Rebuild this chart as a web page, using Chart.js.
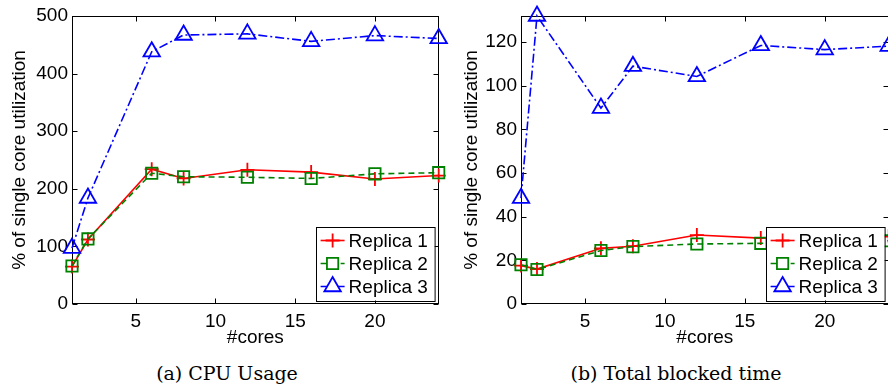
<!DOCTYPE html>
<html>
<head>
    <title>Replica CPU usage and blocked time</title>
    <script src="https://cdn.jsdelivr.net/npm/chart.js"></script>
    <style>
        body {
            margin: 0;
            background: #fff;
        }
        .page {
            position: relative;
            width: 888px;
            height: 389px;
            overflow: hidden;
        }
        canvas {
            position: absolute;
            top: 0;
        }
        #cpuChart { left: 0; }
        #blockedChart { left: 449px; }
        .caption {
            position: absolute;
            top: 362px;
            line-height: 22px;
            font-family: 'DejaVu Serif', serif;
            font-size: 19px;
            color: #000;
            white-space: nowrap;
            transform: translateX(-50%);
        }
    </style>
</head>
<body>
    <div class="page">
        <canvas id="cpuChart" width="450" height="350"></canvas>
        <canvas id="blockedChart" width="451" height="350"></canvas>
        <div class="caption" style="left:227px">(a) CPU Usage</div>
        <div class="caption" style="left:676px">(b) Total blocked time</div>
    </div>

    <script>
        // measured core counts
        const cores = [1, 2, 6, 8, 12, 16, 20, 24];
        const coreTicks = [5, 10, 15, 20];
        const seriesNames = ['Replica 1', 'Replica 2', 'Replica 3'];

        // CPU usage (% of one core)
        const cpuReplica1 = [65, 112, 234, 218, 233, 229, 217, 223];
        const cpuReplica2 = [66, 113, 227, 221, 220, 218, 226, 228];
        const cpuReplica3 = [97, 184, 438, 467, 469, 456, 466, 461];
        const cpuTicks = [0, 100, 200, 300, 400, 500];

        // total blocked time (% of one core)
        const blockedReplica1 = [17.6, 16, 25.5, 26.5, 31.6, 30.2, 30, 31];
        const blockedReplica2 = [18, 15.8, 24.5, 26.3, 27.5, 27.8, 28.5, 29];
        const blockedReplica3 = [48.5, 132, 89.8, 109, 104.3, 118.5, 116.6, 118.2];
        const blockedTicks = [0, 20, 40, 60, 80, 100, 120];

        const lineStyles = [
            { color: '#ff0000', dash: [], marker: 'cross', radius: 7, order: 3 },
            { color: '#008000', dash: [6, 4], marker: 'rect', radius: 8, order: 2 },
            { color: '#0000ff', dash: [9, 3, 2, 3], marker: 'triangle', radius: 9.5, order: 1 }
        ];

        Chart.defaults.font.family = "'Liberation Sans', Arial, sans-serif";
        Chart.defaults.font.size = 19;
        Chart.defaults.color = '#000';

        function buildDatasets(seriesList) {
            return seriesList.map((values, i) => {
                const st = lineStyles[i];
                return {
                    label: seriesNames[i],
                    data: cores.map((c, k) => ({ x: c, y: values[k] })),
                    borderColor: st.color,
                    backgroundColor: 'rgba(0,0,0,0)',
                    borderWidth: 1.6,
                    borderDash: st.dash,
                    pointStyle: st.marker,
                    pointRadius: st.radius,
                    pointBorderColor: st.color,
                    pointBackgroundColor: 'rgba(0,0,0,0)',
                    pointBorderWidth: 1.8,
                    tension: 0,
                    clip: false,
                    order: st.order
                };
            });
        }

        // box around the plot with inward tick marks on all four sides
        const axesFrame = {
            id: 'axesFrame',
            beforeDatasetsDraw(chart) {
                const { ctx, chartArea: a, scales } = chart;
                const L = Math.round(a.left) + 0.5, R = Math.round(a.right) - 0.5;
                const T = Math.round(a.top) + 0.5, B = Math.round(a.bottom) - 0.5;
                const len = 5;
                ctx.save();
                ctx.strokeStyle = '#000';
                ctx.lineWidth = 1;
                ctx.strokeRect(L, T, R - L, B - T);
                ctx.beginPath();
                scales.x.ticks.forEach(t => {
                    const px = Math.round(scales.x.getPixelForValue(t.value)) + 0.5;
                    ctx.moveTo(px, B); ctx.lineTo(px, B - len);
                    ctx.moveTo(px, T); ctx.lineTo(px, T + len);
                });
                scales.y.ticks.forEach(t => {
                    const py = Math.round(scales.y.getPixelForValue(t.value)) + 0.5;
                    ctx.moveTo(L, py); ctx.lineTo(L + len, py);
                    ctx.moveTo(R, py); ctx.lineTo(R - len, py);
                });
                ctx.stroke();
                ctx.restore();
            }
        };

        // legend box in the lower right corner of the plot
        const cornerLegend = {
            id: 'cornerLegend',
            afterDraw(chart) {
                const { ctx, chartArea: a } = chart;
                const w = 118.6, h = 74;
                const x0 = a.right - 4 - w, y0 = a.bottom - 3.5 - h;
                ctx.save();
                ctx.fillStyle = '#fff';
                ctx.fillRect(x0, y0, w, h);
                ctx.strokeStyle = '#000';
                ctx.lineWidth = 1;
                ctx.strokeRect(Math.round(x0) + 0.5, Math.round(y0) + 0.5, w, h);

                chart.data.datasets.forEach((ds, i) => {
                    const cy = y0 + 14 + i * 23;
                    ctx.strokeStyle = ds.borderColor;
                    ctx.lineWidth = ds.borderWidth;
                    ctx.setLineDash(ds.borderDash);
                    ctx.beginPath();
                    ctx.moveTo(x0 + 4.5, cy);
                    ctx.lineTo(x0 + 28.5, cy);
                    ctx.stroke();
                    ctx.setLineDash([]);

                    ctx.fillStyle = '#fff';
                    ctx.lineWidth = ds.pointBorderWidth;
                    Chart.helpers.drawPoint(ctx, {
                        pointStyle: ds.pointStyle,
                        radius: ds.pointRadius,
                        borderWidth: ds.pointBorderWidth,
                        rotation: 0
                    }, x0 + 16.5, cy);

                    ctx.fillStyle = '#000';
                    ctx.font = "19px 'Liberation Sans', Arial, sans-serif";
                    ctx.textAlign = 'left';
                    ctx.textBaseline = 'middle';
                    ctx.fillText(ds.label, x0 + 32.5, cy + 1);
                });
                ctx.restore();
            }
        };

        function makeChart(id, seriesList, yMax, yTicks, titlePad) {
            return new Chart(document.getElementById(id), {
                type: 'line',
                data: { datasets: buildDatasets(seriesList) },
                options: {
                    responsive: false,
                    animation: false,
                    events: [],
                    layout: { padding: { left: 0, top: 16, right: 7, bottom: 0 } },
                    scales: {
                        x: {
                            type: 'linear',
                            min: 1,
                            max: 24,
                            afterBuildTicks: axis => { axis.ticks = coreTicks.map(v => ({ value: v })); },
                            afterFit: axis => { axis.height = 46; },
                            grid: { display: false, drawTicks: false },
                            border: { display: false },
                            ticks: { padding: 6, maxRotation: 0 },
                            title: { display: true, text: '#cores', padding: { top: 0, bottom: 1 } }
                        },
                        y: {
                            type: 'linear',
                            min: 0,
                            max: yMax,
                            afterBuildTicks: axis => { axis.ticks = yTicks.map(v => ({ value: v })); },
                            afterFit: axis => { axis.width = 72; },
                            grid: { display: false, drawTicks: false },
                            border: { display: false },
                            ticks: { padding: 4 },
                            title: {
                                display: true,
                                text: '% of single core utilization',
                                padding: { top: titlePad, bottom: 0 }
                            }
                        }
                    },
                    plugins: {
                        legend: { display: false },
                        tooltip: { enabled: false }
                    }
                },
                plugins: [axesFrame, cornerLegend]
            });
        }

        makeChart('cpuChart', [cpuReplica1, cpuReplica2, cpuReplica3], 500, cpuTicks, 8.6);
        makeChart('blockedChart', [blockedReplica1, blockedReplica2, blockedReplica3], 132, blockedTicks, 11.3);
    </script>
</body>
</html>
